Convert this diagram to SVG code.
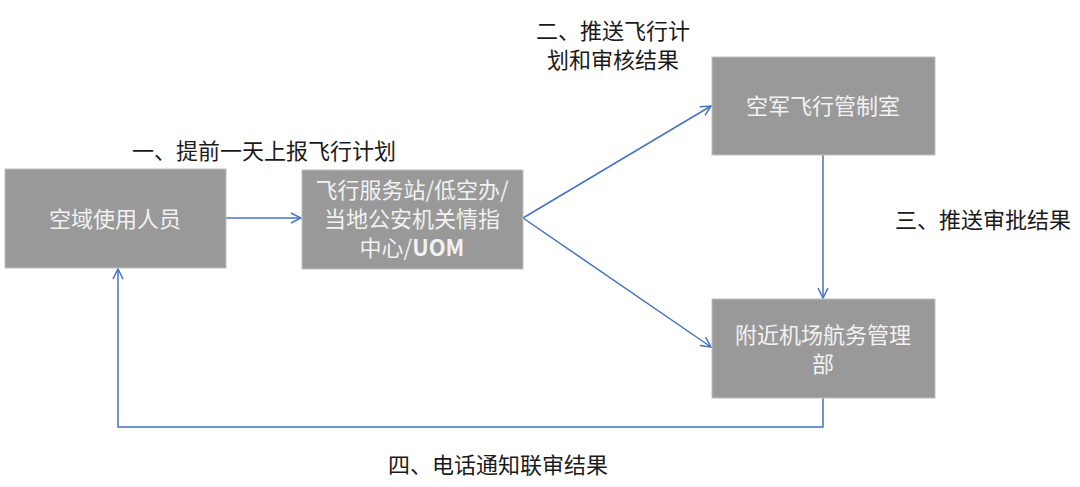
<svg xmlns="http://www.w3.org/2000/svg" width="1080" height="487" viewBox="0 0 1080 487">
<style>
.box{fill:#999999;stroke:#bfbfbf;stroke-width:1}
.bt{font-family:"Noto Sans CJK SC","Liberation Sans",sans-serif;font-size:22px;fill:#f2f2f2;text-anchor:middle}
.lb{font-family:"Noto Sans CJK SC","Liberation Sans",sans-serif;font-size:22px;fill:#1a1a1a;text-anchor:middle}
.ln{fill:none;stroke:#4472c4;stroke-width:1.5}
</style>
<defs>
<marker id="ah" viewBox="0 0 12 12" refX="11" refY="6" markerWidth="12" markerHeight="12" markerUnits="userSpaceOnUse" orient="auto">
<path d="M1,1 L11,6 L1,11" fill="none" stroke="#4472c4" stroke-width="1.5"/>
</marker>
</defs>
<rect width="1080" height="487" fill="#ffffff"/>
<g id="connectors">
<line class="ln" x1="226" y1="218" x2="301" y2="218" marker-end="url(#ah)"/>
<line class="ln" x1="523" y1="218" x2="711" y2="106" marker-end="url(#ah)"/>
<line class="ln" x1="523" y1="218" x2="711" y2="347" marker-end="url(#ah)"/>
<line class="ln" x1="823" y1="155" x2="823" y2="298" marker-end="url(#ah)"/>
<polyline class="ln" points="823,398 823,427 118,427 118,269" marker-end="url(#ah)"/>
</g>
<g id="node1">
<rect class="box" x="5" y="169" width="221" height="99"/>
<text class="bt" x="115" y="227">空域使用人员</text>
</g>
<g id="node2">
<rect class="box" x="302" y="170" width="221" height="99"/>
<text class="bt" x="412" y="198">飞行服务站/低空办/</text>
<text class="bt" x="412" y="227">当地公安机关情指</text>
<text class="bt" x="412" y="256">中心/<tspan font-weight="bold">UOM</tspan></text>
</g>
<g id="node3">
<rect class="box" x="712" y="57" width="223" height="98"/>
<text class="bt" x="823" y="114">空军飞行管制室</text>
</g>
<g id="node4">
<rect class="box" x="712" y="299" width="223" height="99"/>
<text class="bt" x="823" y="343">附近机场航务管理</text>
<text class="bt" x="823" y="372">部</text>
</g>
<g id="labels">
<text class="lb" x="264" y="159">一、提前一天上报飞行计划</text>
<text class="lb" x="613" y="39">二、推送飞行计</text>
<text class="lb" x="613" y="68">划和审核结果</text>
<text class="lb" x="983" y="228">三、推送审批结果</text>
<text class="lb" x="498" y="473">四、电话通知联审结果</text>
</g>
</svg>
